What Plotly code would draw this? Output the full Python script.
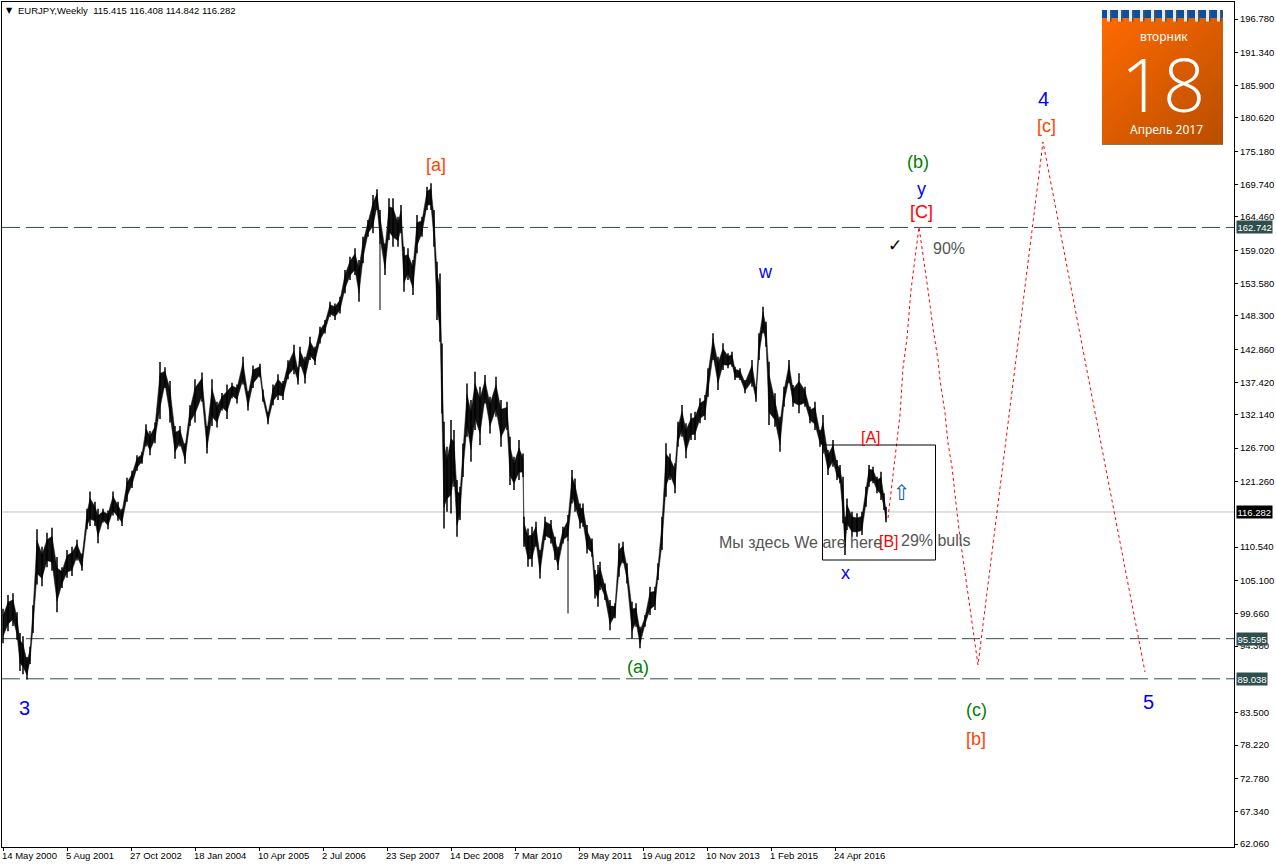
import base64
import plotly.graph_objects as go

# Bar index: 0 = 14 May 2000, one bar per week
bar_index = [0,5,10,14,17,20,24,27,30,34,39,44,49,54,59,64,69,74,79,84,87,92,95,100,105,110,115,119,124,129,134,139,143,147,152,157,162,167,172,177,182,187,192,199,204,209,214,219,224,229,234,240,245,250,257,260,265,270,275,280,285,291,295,
297,302,307,312,317,322,327,332,337,342,347,352,356,360,365,370,374,377,382,386,390,395,398,401,405,410,414,419,424,428,431,434,437,439,441,444,448,451,454,457,460,464,468,472,477,482,487,493,498,504,507,511,516,520,521,525,529,533,537,542,548,552,555,560,565,569,572,577,580,584,589,592,595,
597,602,607,612,616,620,624,629,633,637,642,647,652,655,659,663,667,672,675,679,683,688,692,697,702,705,710,715,720,725,729,732,737,742,749,753,756,760,763,766,772,777,781,786,790,796,802,807,812,817,820,825,830,834,837,840,842,844,849,854,859,863,866,870,874,878,881,883]
bar_high = [100.47,102.73,103.01,99.91,96.53,95.97,92.58,94.28,101.04,113.45,110.62,112.87,113.72,108.93,107.24,110.06,110.62,111.74,109.49,116.82,119.63,117.94,116.82,116.82,116.54,119.63,117.94,116.82,121.89,123.01,125.55,126.11,130.62,129.49,130.9,140.76,139.92,137.67,130.34,130.34,127.52,133.72,137.95,139.07,130.34,137.95,134.28,135.69,137.1,137.38,137.1,141.61,135.98,140.2,140.48,136.26,132.59,137.1,138.79,137.67,141.05,143.58,139.92,
143.27,141.63,144.9,143.27,146.53,147.62,150.62,150.34,151.43,155.79,157.97,159.33,157.42,161.23,163.95,168.04,168.96,165.59,160.14,167.49,167.49,164.5,166.4,159.6,159.33,157.42,164.77,164.5,169.4,169.94,165.59,157.15,155.24,143.81,131.02,126.94,131.29,129.66,121.49,120.4,127.48,137.28,134.56,139.18,136.73,138.64,135.1,138.37,134.56,134.28,128.57,125.3,128.02,125.85,115.5,113.6,113.87,114.69,110.06,115.5,114.96,112.24,110.6,113.87,115.77,123.12,121.76,117.68,117.68,114.14,111.96,106.79,107.61,
108.16,104.62,101.9,101.36,111.16,111.43,107.89,101.63,101.36,97.55,99.45,104.08,104.08,107.89,115.51,127.49,125.85,124.22,131.03,133.75,130.75,132.39,132.66,134.84,135.38,139.74,145.45,141.64,143.82,142.19,142.46,140.01,139.74,137.83,141.1,136.74,145.45,149.81,147.36,140.83,135.65,131.84,136.74,141.1,137.01,138.92,136.74,133.48,134.29,129.67,132.11,126.4,128.03,124.77,123.95,122.04,115.51,118.5,116.33,116.06,116.33,120.41,123.95,123.68,122.04,122.86,119.32,117.14]
bar_low = [94.84,96.81,97.66,95.40,90.33,89.77,88.92,91.46,96.53,104.42,104.14,107.24,106.67,99.91,103.86,105.55,105.83,108.36,106.67,113.45,114.0,114.0,111.18,114.56,113.45,115.69,114.84,114.0,117.94,120.19,123.01,124.14,126.96,125.55,127.52,131.47,136.54,130.9,124.99,126.96,124.14,130.34,130.9,134.28,125.83,130.34,130.06,132.87,131.47,134.85,134.0,137.1,132.87,136.54,138.23,134.28,130.62,133.72,134.57,134.57,137.95,138.79,137.1,
140.0,137.28,141.09,140.27,143.81,145.44,148.17,147.62,148.71,151.98,154.15,154.97,150.62,156.88,161.23,161.78,165.59,160.0,154.97,160.69,159.6,159.6,161.78,152.25,154.15,151.7,158.51,161.23,165.59,165.59,159.6,147.62,144.08,132.38,113.6,116.32,116.05,120.4,112.24,114.96,122.0,128.57,124.49,129.66,127.21,134.01,129.11,131.83,126.94,129.66,120.67,119.86,121.49,122.0,110.6,107.34,107.34,110.6,105.43,111.69,111.15,108.43,106.79,111.15,111.5,117.68,116.32,113.6,113.87,109.51,108.97,102.16,100.8,
103.53,101.9,96.98,98.91,105.71,107.89,104.62,95.64,97.55,94.01,97.55,99.45,100.27,105.17,110.07,118.78,121.5,119.32,126.94,128.58,125.04,128.03,128.03,130.75,131.3,135.11,141.1,136.2,139.46,139.74,140.01,137.83,137.83,135.65,136.74,134.29,141.1,145.45,143.28,130.48,130.21,126.13,133.48,137.29,133.48,132.39,133.48,130.75,129.67,126.94,125.85,122.32,123.68,121.5,120.96,114.42,109.25,113.33,112.24,112.24,112.52,117.14,120.41,120.96,119.32,118.23,116.6,114.59]
# single-week wicks that reach far below their neighbours
spike_index = [377, 565]
spike_top = [160.0, 111.5]
spike_low = [149.26, 99.71]

forecast_index = [885,888,894,897,900,904,908,916,925,930,935,937,942,945,949,954,956,975,1040,1142]
forecast_price = [115.3,119.38,127.22,132.12,139.79,144.69,152.53,162.82,152.53,146.32,141.1,137.83,132.44,127.54,123.62,116.6,113.34,91.29,176.7,90.15]

level_prices = [162.742, 95.595, 89.038]
last_price = 116.282

x_tick_index = [0,64,128,192,256,320,384,448,512,576,640,704,768,832]
x_tick_text = ["14 May 2000","5 Aug 2001","27 Oct 2002","18 Jan 2004","10 Apr 2005","2 Jul 2006","23 Sep 2007","14 Dec 2008","7 Mar 2010","29 May 2011","19 Aug 2012","10 Nov 2013","1 Feb 2015","24 Apr 2016"]
y_ticks = [196.78,191.34,185.9,180.62,175.18,169.74,164.46,159.02,153.58,148.3,142.86,137.42,132.14,126.7,121.26,110.54,105.1,99.66,94.38,83.5,78.22,72.78,67.34,62.06]

W, H = 1276, 868
L, R, T, B = 2, 1234, 2, 847
PX_PER_UNIT = 6.124
def X(px):
    return px - 3
def Y(py):
    return 196.78 - (py - 19) / PX_PER_UNIT
def PXX(px): return (px - L) / (R - L)
def PXY(py): return 1 - (py - T) / (B - T)

FONT = "Liberation Sans"
ORANGE = "#FF4500"
RED = "#FF0000"
BLUE = "#0000FF"
GREEN = "#008000"
GRAY = "#555555"
SLATE = "#2F4F4F"

xs, ys = [], []
for i, h, l in zip(bar_index, bar_high, bar_low):
    xs += [i, i, None]
    ys += [h, l, None]
core_hi = [l + (h - l) * 0.8 for h, l in zip(bar_high, bar_low)]
core_lo = [l + (h - l) * 0.2 for h, l in zip(bar_high, bar_low)]

fig = go.Figure()
# the weekly bars merge into a solid mass at this scale; wicks stick out of it
fig.add_trace(go.Scatter(x=bar_index + bar_index[::-1], y=core_hi + core_lo[::-1], mode="lines", fill="toself",
                         fillcolor="#111111", line=dict(color="#111111", width=0.5), hoverinfo="skip"))
fig.add_trace(go.Scatter(x=xs, y=ys, mode="lines", line=dict(color="#000000", width=1.5), hoverinfo="skip"))
for i, t, l in zip(spike_index, spike_top, spike_low):
    fig.add_trace(go.Scatter(x=[i, i], y=[t, l], mode="lines", line=dict(color="#000000", width=1), hoverinfo="skip"))
fig.add_trace(go.Scatter(x=forecast_index, y=forecast_price, mode="lines",
                         line=dict(color="#FF0000", width=1, dash="3px,3px"), hoverinfo="skip"))

shapes = []
for p in level_prices:
    shapes.append(dict(type="line", xref="paper", x0=0, x1=1, yref="y", y0=p, y1=p,
                       line=dict(color=SLATE, width=1, dash="18px,6px"), layer="below"))
shapes.append(dict(type="line", xref="paper", x0=0, x1=1, yref="y", y0=last_price, y1=last_price,
                   line=dict(color="#C0C0C0", width=1), layer="below"))
shapes.append(dict(type="rect", x0=X(822.5), x1=X(935.5), y0=Y(445), y1=Y(560), line=dict(color="#000000", width=1)))

labels = [
    ("[a]", 436, 165, ORANGE, 18), ("w", 765, 272, BLUE, 18), ("(b)", 918, 162, GREEN, 18),
    ("y", 921, 189, BLUE, 18), ("[C]", 921, 212, RED, 18), ("90%", 949, 248, GRAY, 16),
    ("4", 1043, 99, BLUE, 20), ("[c]", 1046, 126, ORANGE, 18), ("[A]", 871, 437, RED, 16),
    ("[B]", 889, 541, RED, 16), ("29% bulls", 935, 540, GRAY, 16),
    ("Мы здесь We are here", 800, 542, GRAY, 16), ("x", 845, 573, BLUE, 18),
    ("(a)", 638, 667, GREEN, 18), ("3", 24, 708, BLUE, 20), ("(c)", 976, 710, GREEN, 18),
    ("[b]", 976, 739, ORANGE, 18), ("5", 1148, 702, BLUE, 20),
]
ann = []
for t, px, py, c, s in labels:
    ann.append(dict(x=X(px), y=Y(py), text=t, showarrow=False, font=dict(family=FONT, size=s, color=c),
                    xanchor="center", yanchor="middle"))
ann.append(dict(x=X(895), y=Y(245), text="✓", showarrow=False, font=dict(family="DejaVu Sans", size=17, color="#000000")))
ann.append(dict(x=X(902), y=Y(493), text="⇧", showarrow=False, font=dict(family="DejaVu Sans", size=21, color="#0B5CA8")))
# header
ann.append(dict(xref="paper", yref="paper", x=PXX(16), y=PXY(11), text="EURJPY,Weekly  115.415 116.408 114.842 116.282",
                showarrow=False, xanchor="left", yanchor="middle", font=dict(family=FONT, size=9.5, color="#000000")))
ann.append(dict(xref="paper", yref="paper", x=PXX(9), y=PXY(10), text="▼", showarrow=False, xanchor="center", yanchor="middle",
                font=dict(family="DejaVu Sans", size=8, color="#000000")))
# axis price tags
for p in level_prices:
    ann.append(dict(xref="paper", yref="y", x=1, xshift=2, y=p, text=f"{p:.3f}", showarrow=False, xanchor="left",
                    bgcolor=SLATE, font=dict(family=FONT, size=9.5, color="#FFFFFF"), borderpad=0.5))
ann.append(dict(xref="paper", yref="y", x=1, xshift=2, y=last_price, text=f"{last_price:.3f}", showarrow=False, xanchor="left",
                bgcolor="#000000", font=dict(family=FONT, size=9.5, color="#FFFFFF"), borderpad=0.5))
# calendar text
ann += [
    dict(xref="paper", yref="paper", x=PXX(1163.5), y=PXY(37), text="вторник", showarrow=False, xanchor="center", yanchor="middle",
         font=dict(family="Noto Sans", size=12, color="#FFFFFF")),
    dict(xref="paper", yref="paper", x=PXX(1163), y=PXY(83), text="18", showarrow=False, xanchor="center", yanchor="middle",
         width=84, height=72, font=dict(family="Open Sans", size=74, color="#FFFFFF", weight=300)),
    dict(xref="paper", yref="paper", x=PXX(1166), y=PXY(129), text="Апрель 2017", showarrow=False, xanchor="center", yanchor="middle",
         font=dict(family="Noto Sans", size=12, color="#FFFFFF")),
]

# calendar artwork
rings = "".join(
    f'<rect x="{5+11*k}" y="0" width="3" height="11.5" fill="#e8e8e8"/><rect x="{8+11*k}" y="0" width="1.5" height="11.5" fill="#555"/>'
    for k in range(11))
svg = f'''<svg xmlns="http://www.w3.org/2000/svg" width="121" height="135" viewBox="0 0 121 135">
<defs><linearGradient id="g" x1="0" y1="0" x2="1" y2="1"><stop offset="0" stop-color="#FF6A00"/><stop offset="1" stop-color="#B84E00"/></linearGradient></defs>
<rect x="0" y="8" width="121" height="126" fill="url(#g)"/><rect x="0" y="134" width="121" height="1" fill="#8a7a50"/>
<rect x="0" y="0" width="121" height="8" fill="#0A4FA0"/>{rings}</svg>'''
src = "data:image/svg+xml;base64," + base64.b64encode(svg.encode()).decode()

fig.update_layout(
    width=W, height=H, margin=dict(l=L, r=W-R, t=T, b=H-B, pad=0),
    paper_bgcolor="#FFFFFF", plot_bgcolor="#FFFFFF", showlegend=False,
    shapes=shapes, annotations=ann,
    images=[dict(source=src, xref="paper", yref="paper", x=PXX(1102), y=PXY(10), sizex=121/(R-L), sizey=135/(B-T),
                 sizing="stretch", xanchor="left", yanchor="top", layer="below")],
    xaxis=dict(range=[X(L), X(R)], tickmode="array", tickvals=x_tick_index, ticktext=x_tick_text, ticks="outside",
               ticklen=3, tickcolor="#000000", showgrid=False, zeroline=False, showline=True, linecolor="#000000",
               linewidth=1, mirror=True, tickfont=dict(family=FONT, size=9.5, color="#000000"), tickangle=0,
               ticklabelposition="outside right", ticklabeloverflow="allow", ticklabelshift=-2),
    yaxis=dict(range=[Y(B), Y(T)], side="right", tickmode="array", tickvals=y_ticks, ticktext=[f"{v:.3f}" for v in y_ticks],
               ticks="outside", ticklen=3, tickcolor="#000000", showgrid=False, zeroline=False, showline=True,
               linecolor="#000000", linewidth=1, mirror=True, tickfont=dict(family=FONT, size=9.5, color="#000000")),
)
fig.write_html("out.html", config=dict(displayModeBar=False), post_script="document.body.style.margin='0';document.body.style.overflow='hidden';")
